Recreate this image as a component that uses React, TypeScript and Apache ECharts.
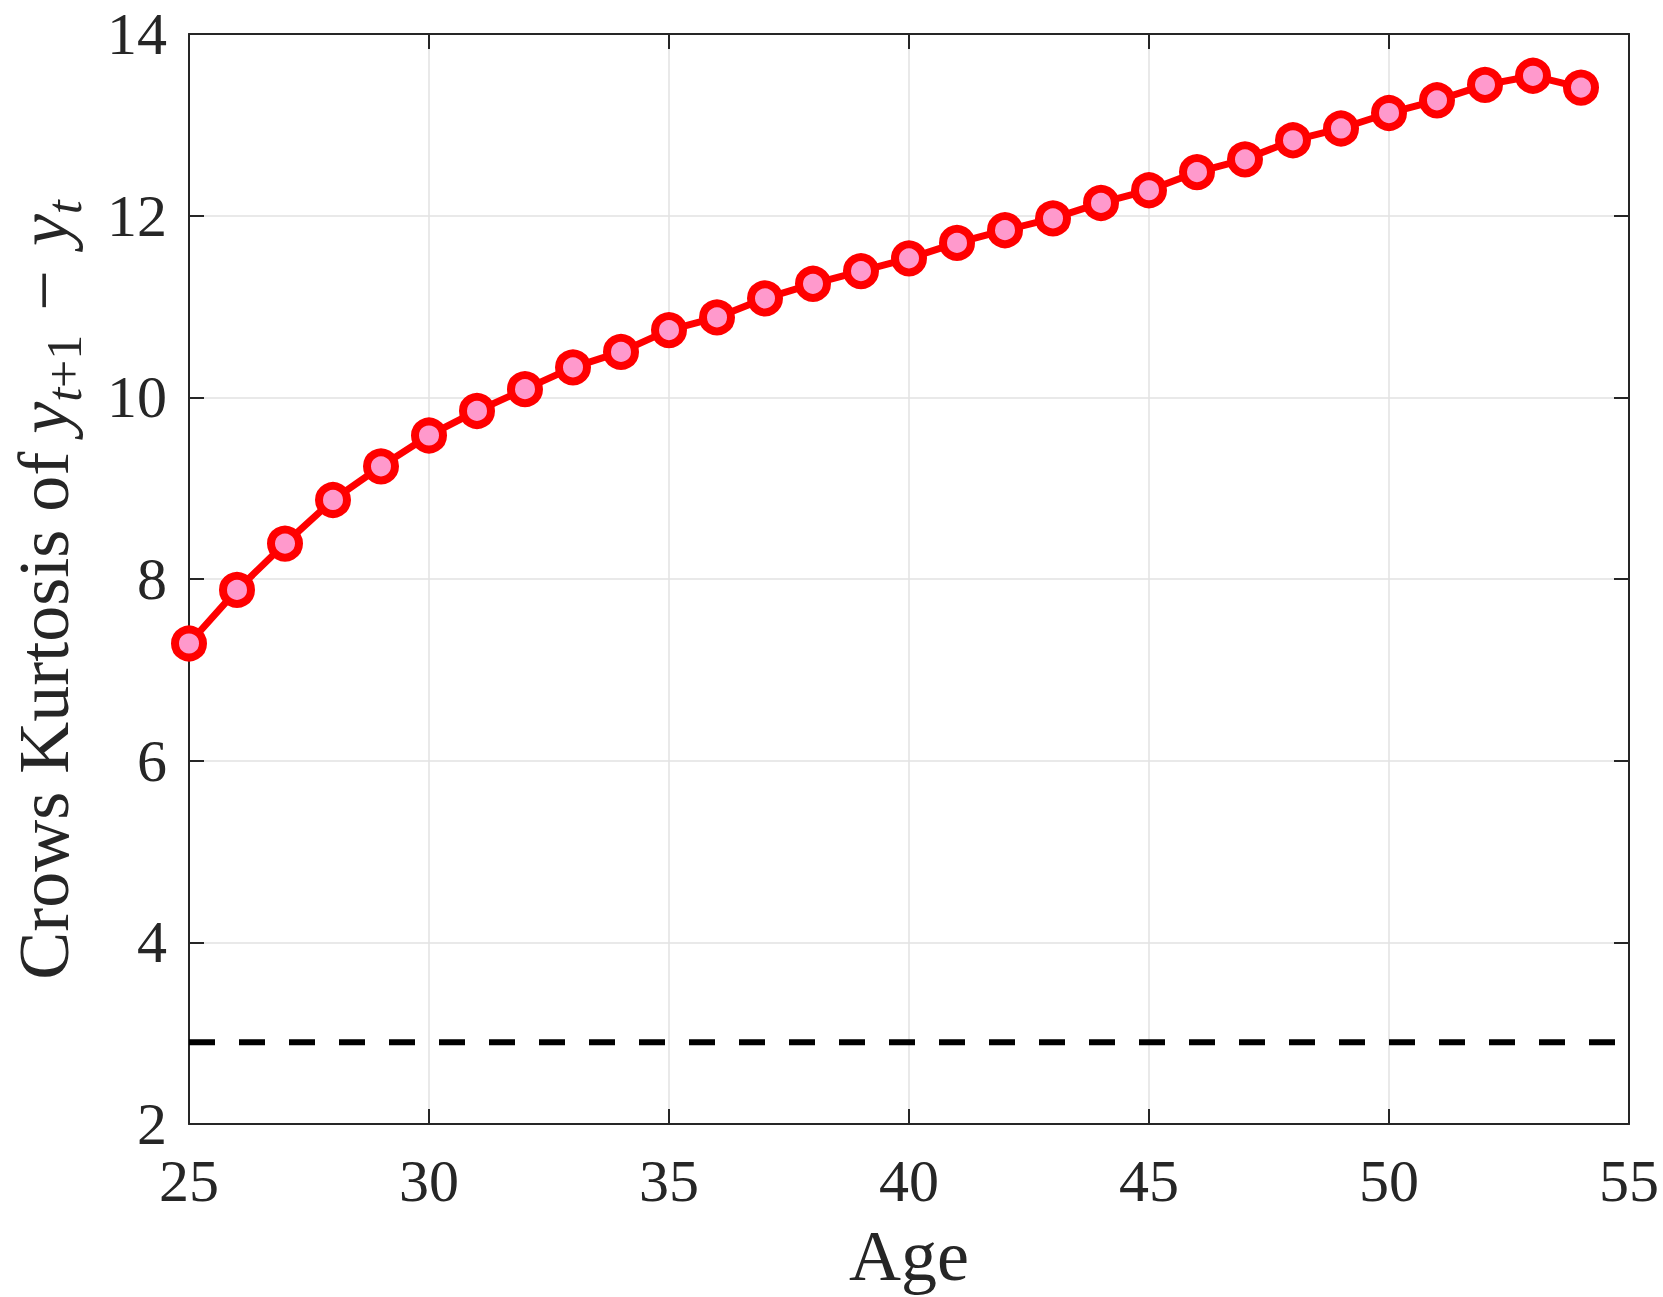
import { useEffect, useRef } from 'react';
import * as echarts from 'echarts';

const ages = [
  25, 26, 27, 28, 29, 30, 31, 32, 33, 34, 35, 36, 37, 38, 39,
  40, 41, 42, 43, 44, 45, 46, 47, 48, 49, 50, 51, 52, 53, 54,
];
const kurtosis = [
  7.29, 7.88, 8.39, 8.87, 9.24, 9.58, 9.85, 10.09, 10.33, 10.5, 10.74, 10.88, 11.09, 11.25, 11.39,
  11.53, 11.7, 11.84, 11.97, 12.14, 12.28, 12.48, 12.62, 12.83, 12.96, 13.13, 13.27, 13.44, 13.54, 13.41,
];
const gaussianLevel = 2.9;
const ageRange = [25, 55];
const kurtRange = [2, 14];

const serif = 'Liberation Serif';
const ink = '#262626';

export default function App() {
  const ref = useRef<HTMLDivElement | null>(null);

  useEffect(() => {
    document.body.style.margin = '0';
    if (!ref.current) return;
    const chart = echarts.init(ref.current, undefined, { renderer: 'svg' });

    const frameAxis = {
      axisLine: { show: true, onZero: false, lineStyle: { color: ink, width: 2 } },
      axisTick: { show: true, inside: true, length: 15, lineStyle: { color: ink, width: 2 } },
      axisLabel: { show: false },
      splitLine: { show: false },
    };

    chart.setOption({
      animation: false,
      backgroundColor: '#ffffff',
      grid: { left: 175, right: 34, top: 25, bottom: 173, containLabel: false },
      xAxis: [
        {
          type: 'value',
          min: ageRange[0],
          max: ageRange[1],
          interval: 5,
          name: 'Age',
          nameLocation: 'middle',
          nameGap: 96,
          nameTextStyle: { fontFamily: serif, fontSize: 72, color: ink },
          axisLine: { onZero: false, lineStyle: { color: ink, width: 2 } },
          axisTick: { inside: true, length: 15, lineStyle: { color: ink, width: 2 } },
          axisLabel: { fontFamily: serif, fontSize: 60, color: ink, margin: 27 },
          splitLine: { show: true, lineStyle: { color: '#e2e2e2', width: 1.5 } },
        },
        {
          ...frameAxis,
          type: 'value',
          position: 'top',
          min: ageRange[0],
          max: ageRange[1],
          interval: 5,
        },
      ],
      yAxis: [
        {
          type: 'value',
          min: kurtRange[0],
          max: kurtRange[1],
          interval: 2,
          name: '{t|Crows Kurtosis of }{i|y}{si|t}{s|+1}{t| \u200a−\u200a }{i|y}{si|t}',
          nameLocation: 'middle',
          nameGap: 100,
          nameTextStyle: {
            color: ink,
            padding: [0, 22, 0, 0],
            rich: {
              t: { fontFamily: serif, fontSize: 72, lineHeight: 90, color: ink },
              i: { fontFamily: serif, fontSize: 72, lineHeight: 90, fontStyle: 'italic', color: ink },
              si: {
                fontFamily: serif,
                fontSize: 50,
                lineHeight: 50,
                fontStyle: 'italic',
                verticalAlign: 'bottom',
                color: ink,
              },
              s: { fontFamily: serif, fontSize: 50, lineHeight: 50, verticalAlign: 'bottom', color: ink },
            },
          },
          axisLine: { onZero: false, lineStyle: { color: ink, width: 2 } },
          axisTick: { inside: true, length: 15, lineStyle: { color: ink, width: 2 } },
          axisLabel: {
            fontFamily: serif,
            fontSize: 60,
            lineHeight: 60,
            color: ink,
            margin: 22,
            padding: [8, 0, 0, 0],
          },
          splitLine: { show: true, lineStyle: { color: '#e2e2e2', width: 1.5 } },
        },
        {
          ...frameAxis,
          type: 'value',
          position: 'right',
          min: kurtRange[0],
          max: kurtRange[1],
          interval: 2,
        },
      ],
      series: [
        {
          name: 'Gaussian',
          type: 'line',
          data: [
            [ageRange[0], gaussianLevel],
            [ageRange[1], gaussianLevel],
          ],
          showSymbol: false,
          lineStyle: { color: '#000000', width: 6, type: [26, 24], cap: 'butt' },
          z: 2,
        },
        {
          name: 'Crows kurtosis',
          type: 'line',
          data: ages.map((age, i) => [age, kurtosis[i]]),
          symbol: 'circle',
          symbolSize: 28,
          lineStyle: { color: '#ff0000', width: 7 },
          itemStyle: { color: '#ff99cc', borderColor: '#ff0000', borderWidth: 8 },
          z: 3,
        },
      ],
    });

    return () => chart.dispose();
  }, []);

  return (
    <div
      ref={ref}
      style={{ position: 'fixed', left: 0, top: 0, width: 1663, height: 1297, background: '#ffffff' }}
    />
  );
}
